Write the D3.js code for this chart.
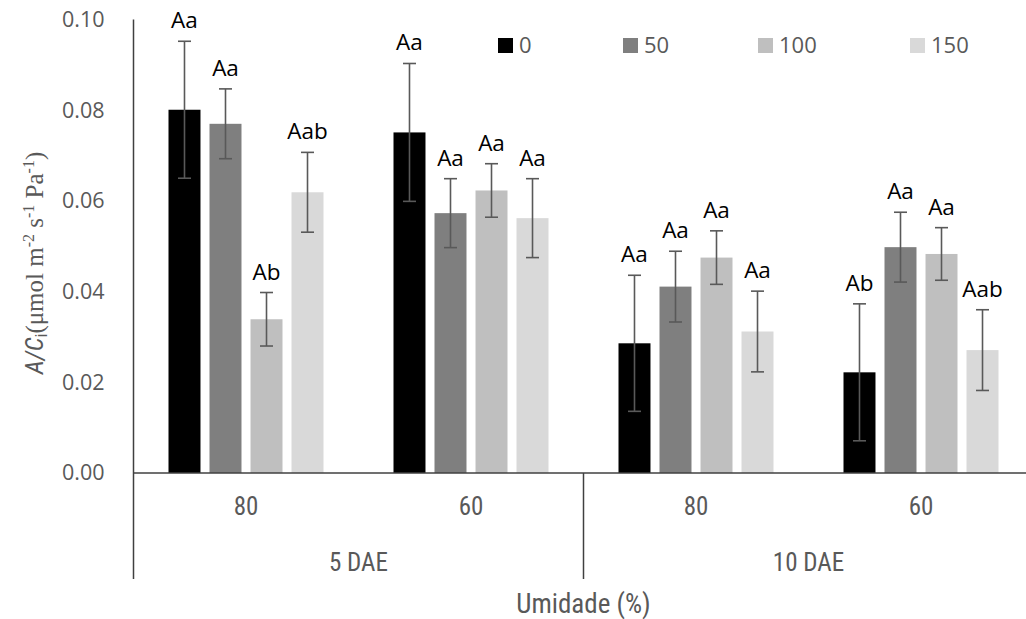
<!DOCTYPE html>
<html>
<head>
<meta charset="utf-8">
<script src="https://cdn.jsdelivr.net/npm/d3@7"></script>
<style>
  html, body { margin: 0; padding: 0; background: #fff; }
  svg { display: block; }
</style>
</head>
<body>
<svg id="chart" width="1026" height="619"></svg>
<script>
// Humidity levels (%) within each sampling time
const humidity = ["80", "60", "80", "60"];
const periods = ["5 DAE", "10 DAE"];
// Treatment doses (legend)
const doses = ["0", "50", "100", "150"];

// A/Ci means per dose, across the four humidity × period groups
const mean0   = [0.0801, 0.0751, 0.0286, 0.0222];
const mean50  = [0.0770, 0.0573, 0.0411, 0.0498];
const mean100 = [0.0339, 0.0623, 0.0475, 0.0483];
const mean150 = [0.0619, 0.0562, 0.0312, 0.0271];

// Error bar half-lengths
const err0   = [0.0151, 0.0152, 0.0150, 0.0151];
const err50  = [0.0077, 0.0076, 0.0078, 0.0077];
const err100 = [0.0059, 0.0059, 0.0059, 0.0058];
const err150 = [0.0088, 0.0087, 0.0089, 0.0089];

// Mean comparison letters
const letters0   = ["Aa", "Aa", "Aa", "Ab"];
const letters50  = ["Aa", "Aa", "Aa", "Aa"];
const letters100 = ["Ab", "Aa", "Aa", "Aa"];
const letters150 = ["Aab", "Aa", "Aa", "Aab"];

const yTicks = [0, 0.02, 0.04, 0.06, 0.08, 0.10];

const colors = ["#000000", "#7f7f7f", "#bfbfbf", "#d9d9d9"];

const means = [mean0, mean50, mean100, mean150];
const errs = [err0, err50, err100, err150];
const letters = [letters0, letters50, letters100, letters150];

const rows = [];
humidity.forEach((h, gi) => {
  doses.forEach((d, si) => {
    rows.push({ group: gi, series: si, value: means[si][gi], err: errs[si][gi], label: letters[si][gi] });
  });
});

const svg = d3.select("#chart");
const axisColor = "#404040";
const textGray = "#595959";
const tickFont = "'Open Sans', sans-serif";
const catFont = "'Liberation Sans Narrow', 'Roboto Condensed', 'Liberation Sans', sans-serif";

const plotLeft = 133.5, plotRight = 1033.5, plotTop = 19.5, plotBase = 473;

const y = d3.scaleLinear().domain([0, 0.1]).range([plotBase, plotTop]);
const x0 = d3.scaleBand().domain(d3.range(humidity.length)).range([plotLeft, plotRight]);
const groupPad = (x0.bandwidth() - 155) / 2;
const x1 = d3.scaleBand().domain(d3.range(doses.length))
  .range([groupPad, x0.bandwidth() - groupPad]).paddingInner(0.22);

// Bars
svg.append("g").selectAll("rect").data(rows).join("rect")
  .attr("x", d => x0(d.group) + x1(d.series))
  .attr("y", d => y(d.value))
  .attr("width", x1.bandwidth())
  .attr("height", d => plotBase - y(d.value))
  .attr("fill", d => colors[d.series]);

// Error bars
const eb = svg.append("g").attr("stroke", "#595959").attr("stroke-width", 1.6).attr("fill", "none");
rows.forEach(d => {
  const cx = x0(d.group) + x1(d.series) + x1.bandwidth() / 2;
  const yt = y(d.value + d.err), yb = y(d.value - d.err);
  eb.append("line").attr("x1", cx).attr("x2", cx).attr("y1", yt).attr("y2", yb);
  eb.append("line").attr("x1", cx - 6.5).attr("x2", cx + 6.5).attr("y1", yt).attr("y2", yt);
  eb.append("line").attr("x1", cx - 6.5).attr("x2", cx + 6.5).attr("y1", yb).attr("y2", yb);
});

// Letters above error bars
svg.append("g").selectAll("text").data(rows).join("text")
  .attr("x", d => x0(d.group) + x1(d.series) + x1.bandwidth() / 2)
  .attr("y", d => y(d.value + d.err) - 13)
  .attr("text-anchor", "middle")
  .attr("font-family", tickFont)
  .attr("font-size", 22.5)
  .attr("fill", "#000")
  .text(d => d.label);

// Y axis
const yAxis = svg.append("g").attr("transform", `translate(${plotLeft},0)`)
  .call(d3.axisLeft(y).tickValues(yTicks).tickFormat(d3.format(".2f")).tickSize(0).tickPadding(29));
yAxis.select(".domain").remove();
yAxis.selectAll("text")
  .attr("font-family", tickFont).attr("font-size", 21.5).attr("fill", textGray);

// Axis lines
const lines = svg.append("g").attr("stroke", axisColor).attr("stroke-width", 1.5);
lines.append("line").attr("x1", plotLeft).attr("x2", plotLeft).attr("y1", plotTop).attr("y2", 579);
lines.append("line").attr("x1", plotLeft).attr("x2", plotRight).attr("y1", plotBase).attr("y2", plotBase);
lines.append("line").attr("x1", x0(2)).attr("x2", x0(2)).attr("y1", plotBase).attr("y2", 579);

// Category labels (humidity)
svg.append("g").selectAll("text").data(humidity).join("text")
  .attr("x", (d, i) => x0(i) + x0.bandwidth() / 2)
  .attr("y", 515)
  .attr("text-anchor", "middle")
  .attr("font-family", catFont).attr("font-size", 25).attr("fill", textGray)
  .text(d => d);

// Period labels
const xp = d3.scaleBand().domain(periods).range([plotLeft, plotRight]);
svg.append("g").selectAll("text").data(periods).join("text")
  .attr("x", d => xp(d) + xp.bandwidth() / 2)
  .attr("y", 571)
  .attr("text-anchor", "middle")
  .attr("font-family", catFont).attr("font-size", 25).attr("fill", textGray)
  .text(d => d);

// X axis title
svg.append("text")
  .attr("x", 583.5).attr("y", 613)
  .attr("text-anchor", "middle")
  .attr("font-family", catFont).attr("font-size", 27).attr("fill", textGray)
  .text("Umidade (%)");

// Y axis title
const yTitle = svg.append("text")
  .attr("transform", "translate(43,263) rotate(-90)")
  .attr("text-anchor", "middle")
  .attr("fill", textGray)
  .attr("font-size", 25);
const serif = "'Liberation Serif', serif";
yTitle.append("tspan").attr("font-family", catFont).attr("font-style", "italic").text("A/C");
yTitle.append("tspan").attr("font-family", catFont).attr("font-size", 17).attr("dy", 4).text("i");
yTitle.append("tspan").attr("font-family", serif).attr("dy", -4).text("(μmol m");
yTitle.append("tspan").attr("font-family", serif).attr("font-size", 16).attr("dy", -9).text("-2");
yTitle.append("tspan").attr("font-family", serif).attr("dy", 9).text(" s");
yTitle.append("tspan").attr("font-family", serif).attr("font-size", 16).attr("dy", -9).text("-1");
yTitle.append("tspan").attr("font-family", serif).attr("dy", 9).text(" Pa");
yTitle.append("tspan").attr("font-family", serif).attr("font-size", 16).attr("dy", -9).text("-1");
yTitle.append("tspan").attr("font-family", serif).attr("dy", 9).text(")");

// Legend
const legendX = [498, 623, 758, 910];
const lg = svg.append("g").selectAll("g").data(doses).join("g")
  .attr("transform", (d, i) => `translate(${legendX[i]},38)`);
lg.append("rect").attr("width", 15).attr("height", 15).attr("fill", (d, i) => colors[i]);
lg.append("text").attr("x", 21).attr("y", 15)
  .attr("font-family", tickFont).attr("font-size", 22).attr("fill", textGray)
  .text(d => d);
</script>
</body>
</html>
